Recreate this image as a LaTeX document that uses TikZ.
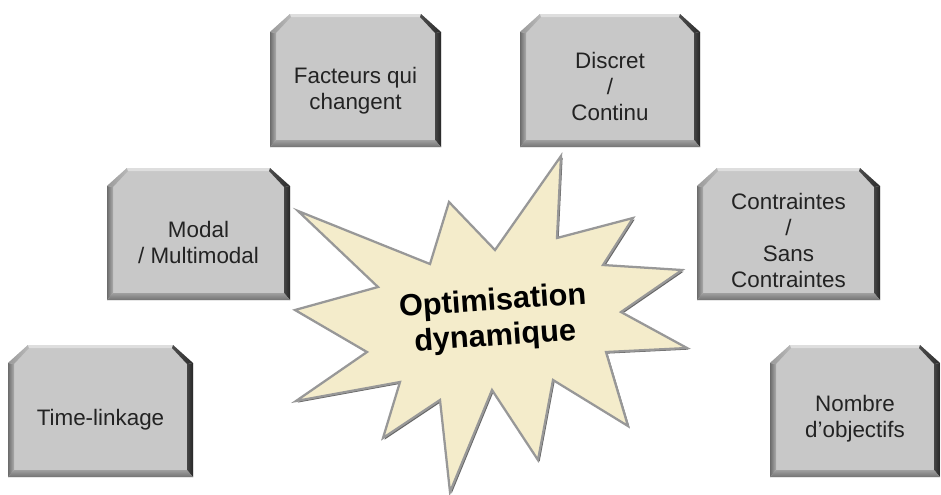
\documentclass[tikz,border=0pt]{standalone}
\usepackage{fontspec}
\setmainfont{Liberation Sans}
\usetikzlibrary{calc}

\definecolor{faceGrey}{HTML}{C8C8C8}
\definecolor{topGrey}{HTML}{DEDEDE}
\definecolor{starFill}{HTML}{F4ECCB}
\definecolor{starEdge}{HTML}{989898}
\definecolor{starShade}{HTML}{666666}
\definecolor{labelInk}{HTML}{232323}

\tikzset{
  boxlabel/.style={align=center, text=labelInk, inner sep=0pt,
    font=\fontsize{16.8}{19.5}\selectfont},
  titlelabel/.style={align=center, text=black, inner sep=0pt,
    font=\bfseries\fontsize{23}{26.5}\selectfont},
}

% Bevelled box with chamfered top corners:
% #1 node name, #2 left, #3 top, #4 right, #5 bottom, #6 label shift, #7 label
\newcommand\bevbox[7]{%
  % front face
  \fill[faceGrey] (#2,#3+18) -- (#2+20,#3) -- (#4-20,#3) -- (#4,#3+18)
     -- (#4,#5) -- (#2,#5) -- cycle;
  % left face
  \shade[left color=gray!85!black, right color=gray!65] (#2,#3+18) -- (#2,#5)
     -- (#2+6,#5-7) -- (#2+6,#3+19) -- cycle;
  % upper left chamfer
  \shade[left color=gray!80, right color=gray!55] (#2,#3+18) -- (#2+20,#3)
     -- (#2+21,#3+3) -- (#2+6,#3+19) -- cycle;
  % top face
  \fill[topGrey] (#2+20,#3) -- (#4-20,#3) -- (#4-21,#3+3) -- (#2+21,#3+3) -- cycle;
  % upper right chamfer
  \shade[left color=gray!60!black, right color=gray!35!black] (#4-20,#3) -- (#4,#3+18)
     -- (#4-6,#3+19) -- (#4-21,#3+3) -- cycle;
  % right face
  \shade[left color=gray!55!black, right color=black!85] (#4,#3+18) -- (#4,#5)
     -- (#4-6,#5-7) -- (#4-6,#3+19) -- cycle;
  % bottom face
  \shade[top color=gray!75, bottom color=gray!90!black] (#2,#5) -- (#4,#5)
     -- (#4-6,#5-7) -- (#2+6,#5-7) -- cycle;
  \node[boxlabel] (#1) at ({(#2+#4)/2},{(#3+#5)/2+#6}) {#7};
}

\begin{document}
\begin{tikzpicture}[x=0.75pt, y=-0.75pt, line join=miter]
  \useasboundingbox[fill=white] (0,0) rectangle (941,494);

  % property boxes
  \bevbox{facteurs}{270}{14}{441}{147}{10}{Facteurs qui\\changent}
  \bevbox{discret}{520}{14}{700}{147}{6}{Discret\\/\\Continu}
  \bevbox{modal}{107}{168}{290}{300}{8}{Modal\\/ Multimodal}
  \bevbox{contraintes}{697}{168}{880}{300}{6}{Contraintes\\/\\Sans\\Contraintes}
  \bevbox{timelink}{8}{345}{193}{477}{9}{Time-linkage}
  \bevbox{nombre}{770}{345}{940}{477}{8}{Nombre\\d’objectifs}

  % central burst
  \def\burst{(298,211) -- (430,264) -- (449,202) -- (495,250) -- (561,156)
    -- (557,238) -- (633,218) -- (603,265) -- (682,270) -- (621,312)
    -- (687,348) -- (606,352) -- (628,426) -- (553,380) -- (538,460)
    -- (492,390) -- (450,492) -- (440,400) -- (383,438) -- (400,382)
    -- (296,401) -- (367,352) -- (295,310) -- (378,287) -- cycle}
  \fill[starShade, shift={(1.6,1.6)}] \burst;
  \filldraw[fill=starFill, draw=starEdge, line width=1.7pt] \burst;

  \node[titlelabel, rotate=4] (title) at (494,320) {Optimisation\\dynamique};
\end{tikzpicture}
\end{document}
